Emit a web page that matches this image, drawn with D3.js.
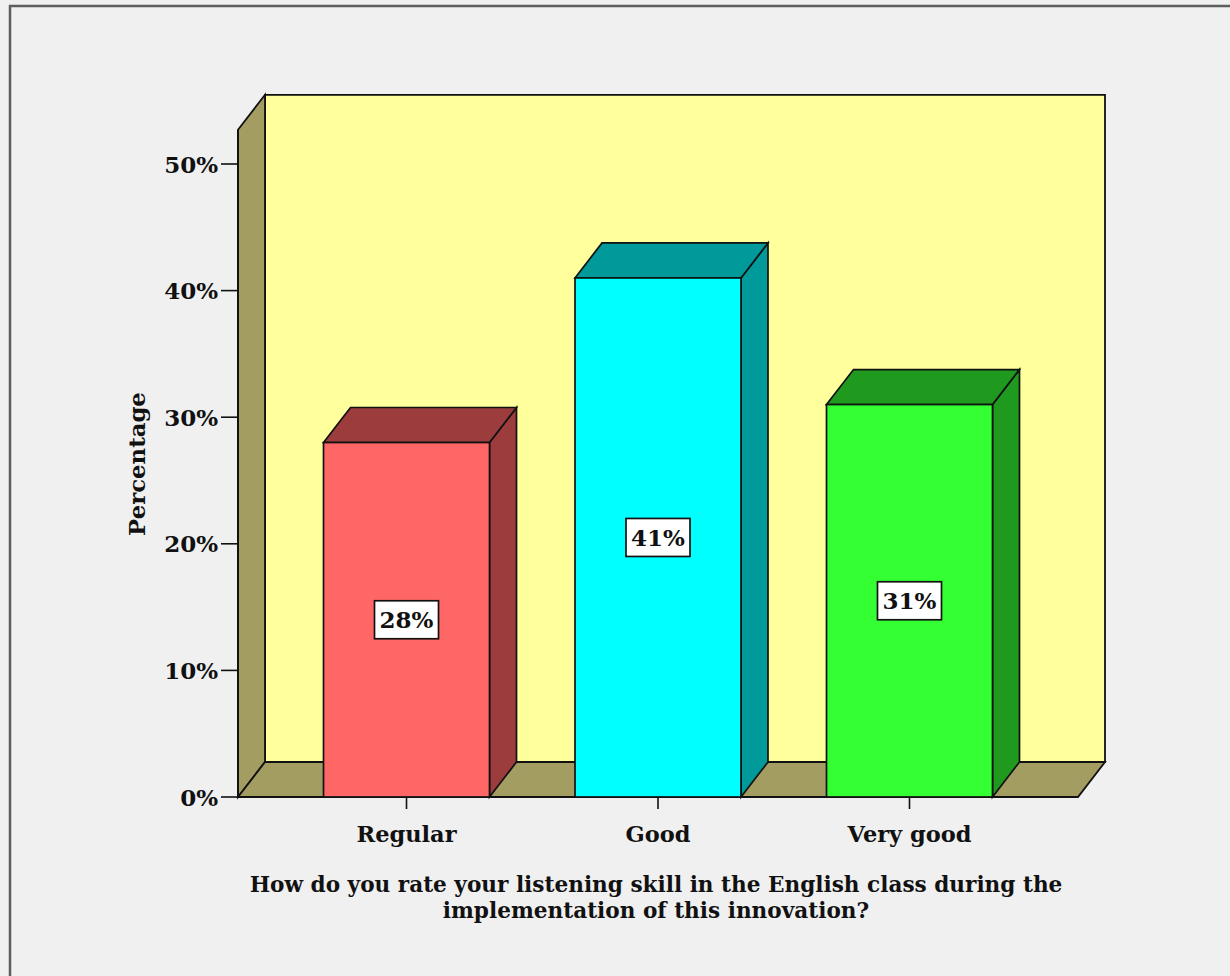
<!DOCTYPE html>
<html>
<head>
<meta charset="utf-8">
<script src="https://cdn.jsdelivr.net/npm/d3@7"></script>
<style>
  html, body { margin: 0; padding: 0; background: #f0f0f0; }
  svg { display: block; }
  text { font-family: "DejaVu Serif", "Liberation Serif", serif; font-weight: bold; fill: #111; }
</style>
</head>
<body>
<svg id="chart" width="1230" height="976"></svg>
<script>
// Listening-skill ratings (percent of respondents)
const categories = ["Regular", "Good", "Very good"];
const values = [28, 41, 31];
const yTicks = [0, 10, 20, 30, 40, 50];
const frontColors = ["#ff6666", "#00ffff", "#33ff33"];
const sideColors = ["#9c3c3c", "#009a9a", "#1f9a1f"];
const xTitleLines = [
  "How do you rate your listening skill in the English class during the",
  "implementation of this innovation?"
];
const yTitle = "Percentage";

const svg = d3.select("#chart");

// Outer panel border
svg.append("rect")
  .attr("x", 10).attr("y", 6).attr("width", 1240).attr("height", 1000)
  .attr("fill", "#f0f0f0").attr("stroke", "#5e5e5e").attr("stroke-width", 2.5);

const plotLeft = 238, plotRight = 1078;
const depthX = 27, depthY = -35;

const y = d3.scaleLinear().domain([0, 50]).range([797, 164]);
const x = d3.scaleBand().domain(categories).range([plotLeft, plotRight]).padding(0.34);

const yTop = y(52.7);
const yBase = y(0);
const line = d3.line();
const stroke = "#111";

// Back wall
svg.append("path")
  .attr("d", line([[plotLeft + depthX, yTop + depthY], [plotRight + depthX, yTop + depthY],
                   [plotRight + depthX, yBase + depthY], [plotLeft + depthX, yBase + depthY]]) + "Z")
  .attr("fill", "#ffff9c").attr("stroke", stroke).attr("stroke-width", 1.8);

// Left side wall
svg.append("path")
  .attr("d", line([[plotLeft, yTop], [plotLeft + depthX, yTop + depthY],
                   [plotLeft + depthX, yBase + depthY], [plotLeft, yBase]]) + "Z")
  .attr("fill", "#a39d62").attr("stroke", stroke).attr("stroke-width", 1.8);

// Floor
svg.append("path")
  .attr("d", line([[plotLeft, yBase], [plotLeft + depthX, yBase + depthY],
                   [plotRight + depthX, yBase + depthY], [plotRight, yBase]]) + "Z")
  .attr("fill", "#a39d62").attr("stroke", stroke).attr("stroke-width", 1.8);

// 3D bars
const bars = svg.append("g");
categories.forEach((c, i) => {
  const x0 = x(c), x1 = x(c) + x.bandwidth();
  const yt = y(values[i]);
  const g = bars.append("g");
  // right side face
  g.append("path")
    .attr("d", line([[x1, yt], [x1 + depthX, yt + depthY], [x1 + depthX, yBase + depthY], [x1, yBase]]) + "Z")
    .attr("fill", sideColors[i]).attr("stroke", stroke).attr("stroke-width", 1.7);
  // top face
  g.append("path")
    .attr("d", line([[x0, yt], [x0 + depthX, yt + depthY], [x1 + depthX, yt + depthY], [x1, yt]]) + "Z")
    .attr("fill", sideColors[i]).attr("stroke", stroke).attr("stroke-width", 1.7);
  // front face
  g.append("rect")
    .attr("x", x0).attr("y", yt).attr("width", x.bandwidth()).attr("height", yBase - yt)
    .attr("fill", frontColors[i]).attr("stroke", stroke).attr("stroke-width", 1.7);

  // value label box
  const cx = x0 + x.bandwidth() / 2, cy = (yt + yBase) / 2;
  const lbl = g.append("text")
    .attr("x", cx).attr("y", cy)
    .attr("text-anchor", "middle").attr("dominant-baseline", "central")
    .attr("font-size", 23)
    .text(values[i] + "%");
  const bb = lbl.node().getBBox();
  g.insert("rect", "text")
    .attr("x", cx - (bb.width + 10) / 2).attr("y", cy - 19)
    .attr("width", bb.width + 10).attr("height", 38)
    .attr("fill", "#ffffff").attr("stroke", stroke).attr("stroke-width", 1.7);
});

// Y axis
const yAxisG = svg.append("g");
yAxisG.append("line")
  .attr("x1", plotLeft).attr("x2", plotLeft).attr("y1", yTop).attr("y2", yBase)
  .attr("stroke", stroke).attr("stroke-width", 1.8);
yTicks.forEach(t => {
  yAxisG.append("line")
    .attr("x1", 221).attr("x2", plotLeft).attr("y1", y(t)).attr("y2", y(t))
    .attr("stroke", stroke).attr("stroke-width", 1.6);
  yAxisG.append("text")
    .attr("x", 218).attr("y", y(t))
    .attr("text-anchor", "end").attr("dominant-baseline", "central")
    .attr("font-size", 23)
    .text(t + "%");
});

// X axis ticks and category labels
categories.forEach(c => {
  const cx = x(c) + x.bandwidth() / 2;
  svg.append("line")
    .attr("x1", cx).attr("x2", cx).attr("y1", yBase).attr("y2", yBase + 12)
    .attr("stroke", stroke).attr("stroke-width", 1.6);
  svg.append("text")
    .attr("x", cx).attr("y", 842)
    .attr("text-anchor", "middle")
    .attr("font-size", 22.5)
    .text(c);
});

// Axis titles
svg.append("text")
  .attr("transform", "translate(145,464) rotate(-90)")
  .attr("text-anchor", "middle")
  .attr("font-size", 22.8)
  .text(yTitle);

xTitleLines.forEach((t, i) => {
  svg.append("text")
    .attr("x", 656).attr("y", 892 + i * 26)
    .attr("text-anchor", "middle")
    .attr("font-size", 21.6)
    .text(t);
});
</script>
</body>
</html>
